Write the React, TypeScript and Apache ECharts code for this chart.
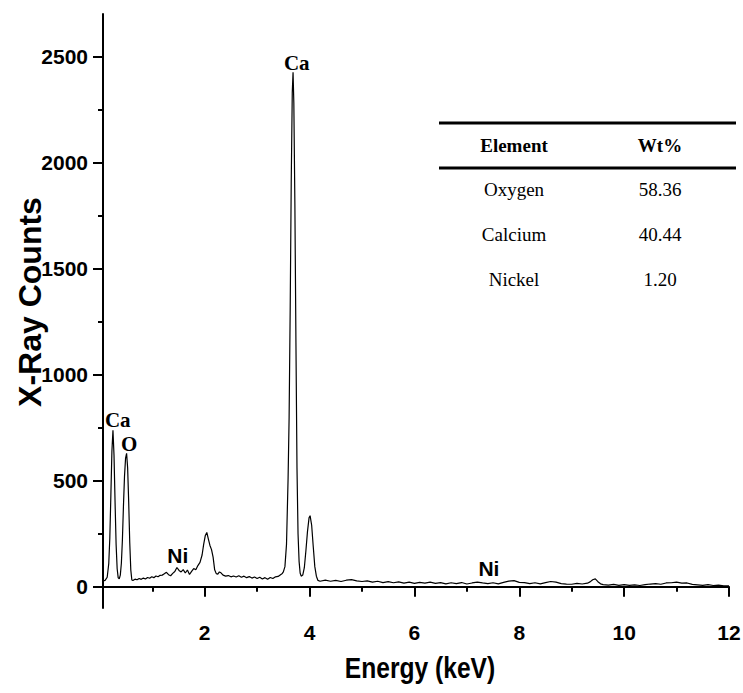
import React, { useEffect, useRef } from "react";
import * as echarts from "echarts";

// Spectrum: energy (keV) and X-ray counts
const energies = [
  0.06, 0.1, 0.14, 0.17, 0.19, 0.21, 0.23, 0.25, 0.27, 0.29, 0.31, 0.33, 0.35, 0.37, 0.39,
  0.41, 0.43, 0.45, 0.47, 0.49, 0.51, 0.53, 0.55, 0.57, 0.59, 0.61, 0.63, 0.67, 0.71, 0.75,
  0.79, 0.83, 0.87, 0.91, 0.95, 0.99, 1.03, 1.07, 1.11, 1.15, 1.19, 1.23, 1.27, 1.31, 1.35,
  1.39, 1.43, 1.47, 1.51, 1.55, 1.59, 1.63, 1.67, 1.71, 1.75, 1.79, 1.83, 1.87, 1.91, 1.95,
  1.98, 2.01, 2.04, 2.07, 2.1, 2.13, 2.16, 2.19, 2.22, 2.25, 2.28, 2.31, 2.35, 2.4, 2.45,
  2.5, 2.55, 2.6, 2.65, 2.7, 2.75, 2.8, 2.85, 2.9, 2.95, 3.0, 3.05, 3.1, 3.15, 3.2,
  3.25, 3.3, 3.35, 3.4, 3.44, 3.48, 3.5, 3.53, 3.56, 3.59, 3.61, 3.63, 3.65, 3.67, 3.685,
  3.7, 3.72, 3.74, 3.76, 3.78, 3.8, 3.82, 3.84, 3.87, 3.9, 3.93, 3.96, 3.99, 4.01, 4.04,
  4.07, 4.1, 4.13, 4.16, 4.2, 4.3, 4.4, 4.5, 4.6, 4.7, 4.8, 4.9, 5.0, 5.1, 5.2,
  5.3, 5.4, 5.5, 5.6, 5.7, 5.8, 5.9, 6.0, 6.1, 6.2, 6.3, 6.4, 6.5, 6.6, 6.7,
  6.8, 6.9, 7.0, 7.1, 7.2, 7.3, 7.4, 7.5, 7.6, 7.7, 7.8, 7.9, 8.0, 8.1, 8.2,
  8.3, 8.4, 8.5, 8.6, 8.7, 8.8, 8.9, 9.0, 9.1, 9.2, 9.3, 9.35, 9.4, 9.45, 9.5,
  9.55, 9.6, 9.7, 9.8, 9.9, 10.0, 10.1, 10.2, 10.3, 10.4, 10.5, 10.6, 10.7, 10.8, 10.9,
  11.0, 11.1, 11.2, 11.3, 11.4, 11.5, 11.6, 11.7, 11.8, 11.9, 12.0,
];
const counts = [
  28, 30, 45, 110, 230, 430, 640, 738, 620, 400, 200, 85, 42, 38, 55,
  110, 220, 380, 520, 605, 629, 560, 400, 210, 80, 32, 30, 36, 33, 39,
  35, 41, 37, 44, 40, 47, 43, 51, 47, 54, 55, 61, 68, 57, 52,
  63, 72, 91, 77, 70, 81, 65, 79, 58, 73, 86, 80, 100, 115, 150,
  200, 240, 256, 225, 195, 175, 140, 80, 62, 60, 70, 66, 55, 50, 53,
  47, 51, 46, 52, 45, 50, 43, 48, 41, 46, 39, 45, 37, 43, 36,
  44, 39, 47, 49, 56, 63, 70, 95, 200, 508, 800, 1300, 1900, 2330, 2425,
  2280, 1800, 1150, 560, 250, 120, 65, 50, 55, 90, 170, 260, 325, 335, 290,
  190, 95, 50, 30, 26, 31, 26, 30, 25, 31, 34, 28, 25, 28, 22,
  26, 20, 24, 19, 23, 17, 22, 16, 21, 17, 22, 16, 20, 14, 19,
  15, 20, 13, 18, 22, 18, 15, 19, 14, 21, 27, 29, 21, 20, 15,
  19, 14, 20, 25, 22, 15, 13, 12, 16, 13, 17, 23, 33, 37, 24,
  14, 10, 8, 11, 7, 10, 7, 9, 6, 10, 13, 15, 12, 18, 19,
  22, 17, 18, 11, 9, 7, 10, 6, 8, 5, 5,
];

const xMajorTicks = [2, 4, 6, 8, 10, 12];
const xMinorTicks = [1, 3, 5, 7, 9, 11];
const yMajorTicks = [0, 500, 1000, 1500, 2000, 2500];
const yMinorTicks = [250, 750, 1250, 1750, 2250];

// Peak annotations: label, energy, counts at label centre
const peakNames = ["Ca", "Ca", "O", "Ni", "Ni"];
const peakEnergies = [3.755, 0.341, 0.56, 1.485, 7.42];
const peakLabelCounts = [2468, 786, 672, 149, 88];
const peakSerif = [true, true, true, false, false];

// Composition table
const tableHeader = ["Element", "Wt%"];
const tableElements = ["Oxygen", "Calcium", "Nickel"];
const tableWt = ["58.36", "40.44", "1.20"];

const SANS = "'Liberation Sans', Arial, sans-serif";
const SERIF = "'Liberation Serif', 'Times New Roman', serif";

export default function App() {
  const ref = useRef<HTMLDivElement>(null);
  useEffect(() => {
    if (!ref.current) return;
    const chart = echarts.init(ref.current, null, { renderer: "svg" });
    const xMin = 0.06, xMax = 12, yMin = -100, yMax = 2700;
    const black = "#000";
    const tickFont = {
      color: black, fontFamily: SANS, fontWeight: "bold", fontSize: 21,
      formatter: (v: number) => String(v),
    };

    const tableGraphics: any[] = [];
    const colX = [514, 660];
    tableGraphics.push({ type: "rect", shape: { x: 439, y: 121.5, width: 297, height: 3 }, style: { fill: black } });
    tableGraphics.push({ type: "rect", shape: { x: 439, y: 166.5, width: 297, height: 3 }, style: { fill: black } });
    tableHeader.forEach((h, i) => {
      tableGraphics.push({
        type: "text", x: colX[i], y: 145,
        style: { text: h, fill: black, font: `bold 19px ${SERIF}`, align: "center", verticalAlign: "middle" },
      });
    });
    const rowY = [189, 234, 279];
    tableElements.forEach((el, i) => {
      tableGraphics.push({
        type: "text", x: colX[0], y: rowY[i],
        style: { text: el, fill: black, font: `19px ${SERIF}`, align: "center", verticalAlign: "middle" },
      });
      tableGraphics.push({
        type: "text", x: colX[1], y: rowY[i],
        style: { text: tableWt[i], fill: black, font: `19px ${SERIF}`, align: "center", verticalAlign: "middle" },
      });
    });

    const axisNames = [
      {
        type: "text", x: 30, y: 302, rotation: Math.PI / 2,
        style: { text: "X-Ray Counts", fill: black, font: `bold 32px ${SANS}`, align: "center", verticalAlign: "middle" },
      },
      {
        type: "text", x: 420, y: 668, scaleX: 0.82,
        style: { text: "Energy (keV)", fill: black, font: `bold 30px ${SANS}`, align: "center", verticalAlign: "middle" },
      },
    ];

    chart.setOption({
      animation: false,
      backgroundColor: "#fff",
      grid: { left: 103, right: 14, top: 14, bottom: 85, containLabel: false, outerBoundsMode: "none" },
      xAxis: [
        {
          type: "value", min: xMin, max: xMax, position: "bottom",
          axisLine: { show: true, lineStyle: { color: black, width: 2 } },
          axisTick: { show: true, customValues: xMajorTicks, length: 10, lineStyle: { color: black, width: 2 } },
          axisLabel: { show: true, customValues: xMajorTicks, margin: 14, ...tickFont },
          splitLine: { show: false },
        },
        {
          type: "value", min: xMin, max: xMax, position: "bottom",
          axisLine: { show: false },
          axisTick: { show: true, customValues: xMinorTicks, length: 5, lineStyle: { color: black, width: 2 } },
          axisLabel: { show: false },
          splitLine: { show: false },
        },
      ],
      yAxis: [
        {
          type: "value", min: yMin, max: yMax, position: "left",
          axisLine: { show: true, lineStyle: { color: black, width: 2 } },
          axisTick: { show: true, customValues: yMajorTicks, length: 10, lineStyle: { color: black, width: 2 } },
          axisLabel: { show: true, customValues: yMajorTicks, margin: 15, ...tickFont },
          splitLine: { show: false },
        },
        {
          type: "value", min: yMin, max: yMax, position: "left",
          axisLine: { show: false },
          axisTick: { show: true, customValues: yMinorTicks, length: 5, lineStyle: { color: black, width: 2 } },
          axisLabel: { show: false },
          splitLine: { show: false },
        },
      ],
      series: [
        {
          type: "line",
          xAxisIndex: 0, yAxisIndex: 0,
          data: energies.map((e, i) => [e, counts[i]]),
          showSymbol: false,
          symbol: "none",
          lineStyle: { color: black, width: 1.2 },
          smooth: false,
          silent: true,
        },
      ],
      graphic: [...axisNames, ...tableGraphics],
    });

    // Peak labels positioned through the chart's own axes
    const peakGraphics = peakNames.map((n, i) => {
      const p = chart.convertToPixel({ xAxisIndex: 0, yAxisIndex: 0 }, [peakEnergies[i], peakLabelCounts[i]]) as number[];
      return {
        type: "text", x: p[0], y: p[1],
        style: {
          text: n, fill: black,
          font: `bold 21px ${peakSerif[i] ? SERIF : SANS}`,
          align: "center", verticalAlign: "middle",
        },
      };
    });
    chart.setOption({ graphic: [...axisNames, ...tableGraphics, ...peakGraphics] }, { replaceMerge: ["graphic"] });

    return () => chart.dispose();
  }, []);
  return <div ref={ref} style={{ position: "fixed", left: 0, top: 0, width: 743, height: 693 }} />;
}
